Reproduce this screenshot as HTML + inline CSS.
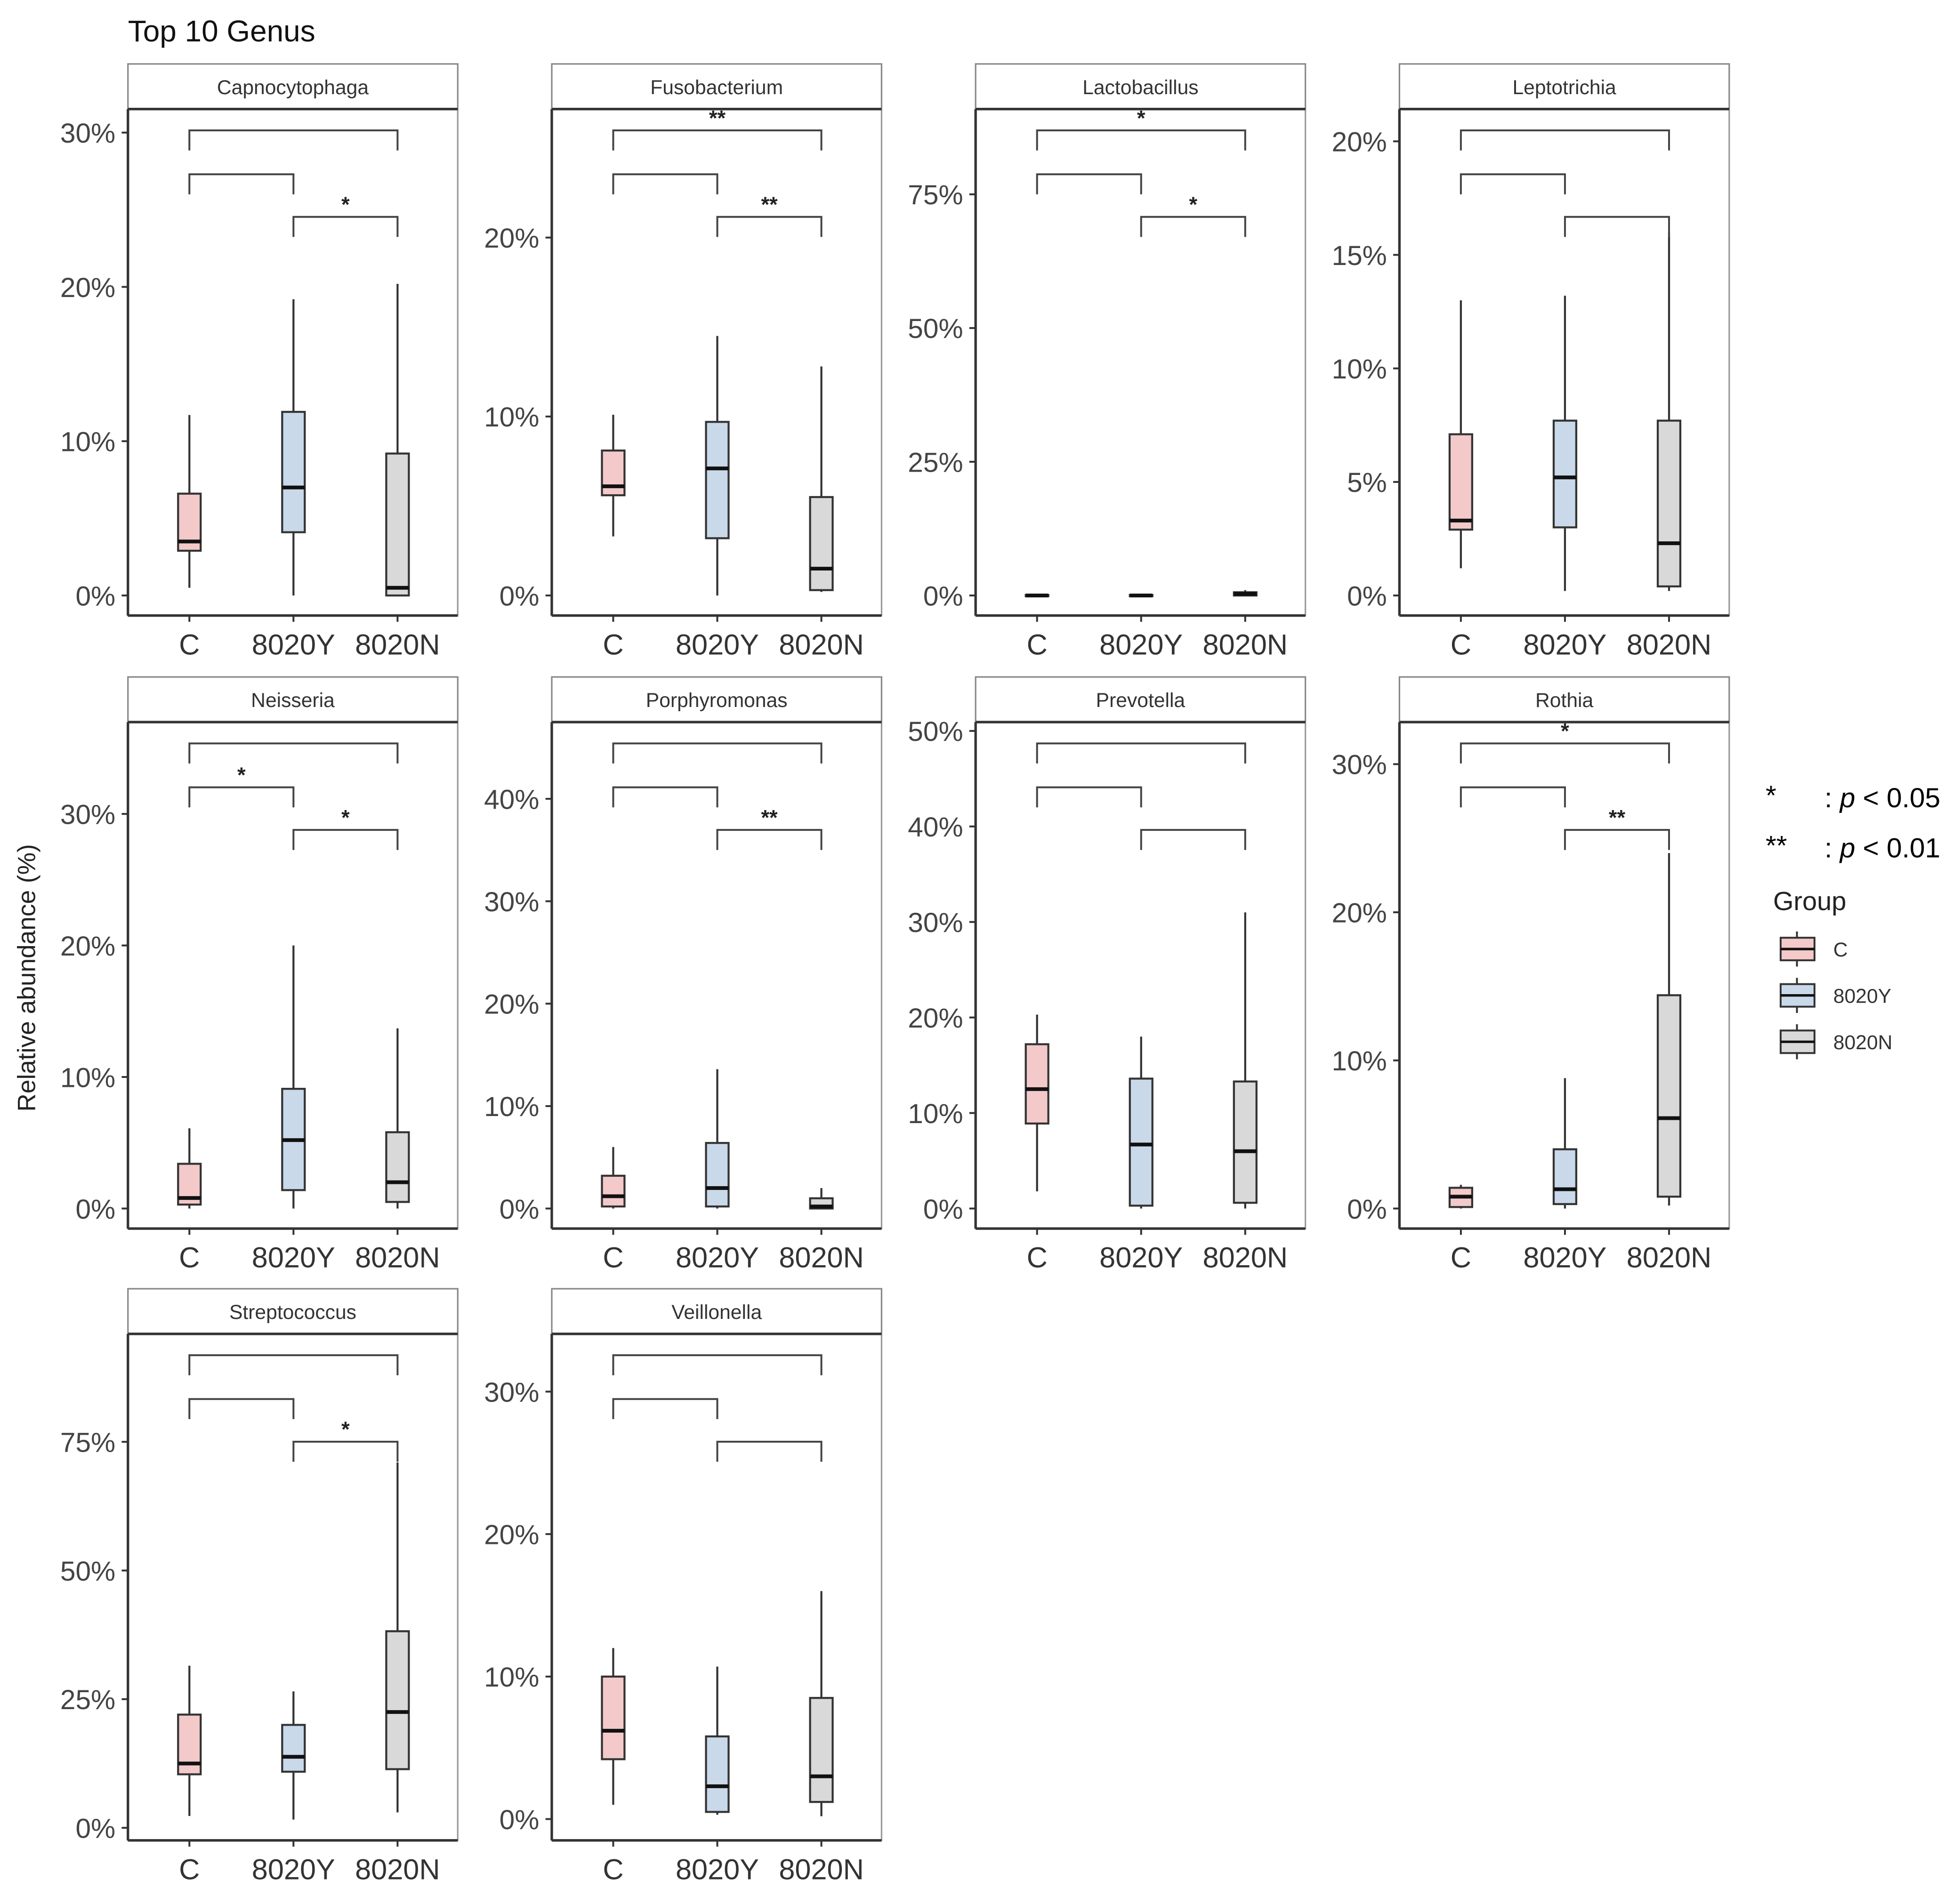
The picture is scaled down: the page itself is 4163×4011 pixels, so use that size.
<!DOCTYPE html>
<html><head><meta charset="utf-8"><style>
html,body{margin:0;padding:0;background:#fff}
svg{display:block}
text{font-family:"Liberation Sans",sans-serif}
</style></head><body>
<svg id="chart" xmlns="http://www.w3.org/2000/svg" width="4163" height="4011" viewBox="0 0 1563 1506">
<text x="102" y="33" font-size="24" fill="#111">Top 10 Genus</text>
<text transform="translate(28,780) rotate(-90)" text-anchor="middle" font-size="20" fill="#222">Relative abundance (%)</text>
<g id="panels"></g>
<g>
<text x="1408" y="642" font-size="22" font-family="Liberation Serif,serif">*</text>
<text x="1455" y="644" font-size="22" font-family="Liberation Serif,serif">: <tspan font-style="italic">p</tspan> &lt; 0.05</text>
<text x="1408" y="682" font-size="22" font-family="Liberation Serif,serif">**</text>
<text x="1455" y="684" font-size="22" font-family="Liberation Serif,serif">: <tspan font-style="italic">p</tspan> &lt; 0.01</text>
</g>
<g>
<text x="1414" y="726" font-size="21" fill="#222">Group</text>
<g id="legend-items"></g>
</g>
</svg>
<script>
const genera = ["Capnocytophaga","Fusobacterium","Lactobacillus","Leptotrichia","Neisseria","Porphyromonas","Prevotella","Rothia","Streptococcus","Veillonella"];
const groups = ["C","8020Y","8020N"];
const groupColors = ["#f3c9ca","#c9d9ea","#d9d9d9"];
// stats per genus: [min,q1,median,q3,max] for C, 8020Y, 8020N (percent)
const statsC = [[0.5,2.9,3.5,6.6,11.7],[3.3,5.6,6.1,8.1,10.1],[0,0,0,0.1,0.2],[1.2,2.9,3.3,7.1,13],[0,0.3,0.8,3.4,6.1],[0,0.2,1.2,3.2,6],[1.8,8.9,12.5,17.2,20.3],[0,0.1,0.8,1.4,1.6],[2.3,10.4,12.5,22,31.5],[1,4.2,6.2,10,12]];
const statsY = [[0,4.1,7,11.9,19.2],[0,3.2,7.1,9.7,14.5],[0,0,0,0.1,0.2],[0.2,3,5.2,7.7,13.2],[0,1.4,5.2,9.1,20],[0,0.2,2,6.4,13.6],[0,0.3,6.7,13.6,18],[0,0.3,1.3,4,8.8],[1.6,10.9,13.8,20,26.5],[0.3,0.5,2.3,5.8,10.7]];
const statsN = [[0,0,0.5,9.2,20.2],[0.2,0.3,1.5,5.5,12.8],[0,0,0.3,0.6,1],[0.2,0.4,2.3,7.7,16],[0,0.5,2,5.8,13.7],[0,0,0.2,1,2],[0,0.6,6,13.3,31],[0.2,0.8,6.1,14.4,24],[3,11.4,22.5,38.2,71],[0.2,1.2,3,8.5,16]];
const yTicks = [[0,10,20,30],[0,10,20],[0,25,50,75],[0,5,10,15,20],[0,10,20,30],[0,10,20,30,40],[0,10,20,30,40,50],[0,10,20,30],[0,25,50,75],[0,10,20,30]];
const yMax = [31.2,26.9,90,21.2,36.6,47,50.4,32.5,95,33.7];
// significance labels: [top C-8020N, C-8020Y, 8020Y-8020N]
const sigTop = ["","**","*","","","","","*","",""];
const sigCY = ["","","","","*","","","","",""];
const sigYN = ["*","**","*","","*","**","","**","*",""];

const NS="http://www.w3.org/2000/svg";
function mk(tag,attrs,parent){const e=document.createElementNS(NS,tag);for(const k in attrs)e.setAttribute(k,attrs[k]);parent.appendChild(e);return e;}
const root=document.getElementById('panels');
const colX=[102,440,778,1116], rowY=[51,540,1028];
const PW=263, SH=36, PH=404;
genera.forEach((g,i)=>{
  const px=colX[i%4], py=rowY[Math.floor(i/4)];
  const top=py+SH, bot=top+PH;
  const y0=(i===9)?bot-17:(i===8?bot-10:bot-16);
  const sc=v=>y0-v*((y0-(top+4))/yMax[i]);
  const pg=mk('g',{},root);
  
  
  const strip=mk('rect',{x:px,y:py,width:PW,height:SH,fill:'#fff',stroke:'#888','stroke-width':1.2},pg);
  
  
  const st=mk('text',{x:px+PW/2,y:py+24,'text-anchor':'middle','font-size':16,fill:'#333'},pg);
  st.textContent=g;
  
  
  mk('rect',{x:px,y:top,width:PW,height:PH,fill:'none',stroke:'#999','stroke-width':1.2},pg);
  mk('line',{x1:px,y1:top,x2:px+PW,y2:top,stroke:'#333','stroke-width':2},pg);
  mk('line',{x1:px,y1:top,x2:px,y2:bot,stroke:'#333','stroke-width':2},pg);
  mk('line',{x1:px,y1:bot,x2:px+PW,y2:bot,stroke:'#333','stroke-width':2},pg);
  yTicks[i].forEach(t=>{
    const y=sc(t);
    mk('line',{x1:px-5,y1:y,x2:px,y2:y,stroke:'#333','stroke-width':1.5},pg);
    const tl=mk('text',{x:px-10,y:y+8,'text-anchor':'end','font-size':22,fill:'#444'},pg);
    tl.textContent=t+'%';
    
    
  });
  const gx=[px+49,px+132,px+215];
  const all=[statsC[i],statsY[i],statsN[i]];
  gx.forEach((x,k)=>{
    mk('line',{x1:x,y1:bot,x2:x,y2:bot+5,stroke:'#333','stroke-width':1.5},pg);
    const xl=mk('text',{x:x,y:bot+31,'text-anchor':'middle','font-size':23,fill:'#333'},pg);
    xl.textContent=groups[k];
    
    
    const s=all[k];
    const bg=mk('g',{},pg);
    
    
    mk('line',{x1:x,y1:sc(s[0]),x2:x,y2:sc(s[4]),stroke:'#333','stroke-width':1.6},bg);
    mk('rect',{x:x-9,y:sc(s[3]),width:18,height:Math.max(1,sc(s[1])-sc(s[3])),fill:groupColors[k],stroke:'#333','stroke-width':1.6},bg);
    mk('line',{x1:x-9,y1:sc(s[2]),x2:x+9,y2:sc(s[2]),stroke:'#111','stroke-width':3},bg);
  });
  const bY=[top+17,top+52,top+86];
  const pairs=[[0,2,sigTop[i]],[0,1,sigCY[i]],[1,2,sigYN[i]]];
  pairs.forEach((p,k)=>{
    const y=bY[k];
    const br=mk('path',{d:`M${gx[p[0]]},${y+16}V${y}H${gx[p[1]]}V${y+16}`,fill:'none',stroke:'#444','stroke-width':1.5},pg);
    
    
    if(p[2]){
      const t=mk('text',{x:(gx[p[0]]+gx[p[1]])/2,y:y-4,'text-anchor':'middle','font-size':17,'font-weight':'bold',fill:'#222'},pg);
      t.textContent=p[2];
      
      
    }
  });
});
const li=document.getElementById('legend-items');
groups.forEach((g,k)=>{
  const y=757+k*37;
  const lg=mk('g',{},li);
  
  
  mk('line',{x1:1433,y1:y-14,x2:1433,y2:y+14,stroke:'#333','stroke-width':1.5},lg);
  mk('rect',{x:1420,y:y-9,width:27,height:18,fill:groupColors[k],stroke:'#333','stroke-width':1.5},lg);
  mk('line',{x1:1420,y1:y,x2:1447,y2:y,stroke:'#111','stroke-width':2},lg);
  const t=mk('text',{x:1462,y:y+6,'font-size':16,fill:'#333'},lg);
  t.textContent=g;
});
</script>
</body></html>
